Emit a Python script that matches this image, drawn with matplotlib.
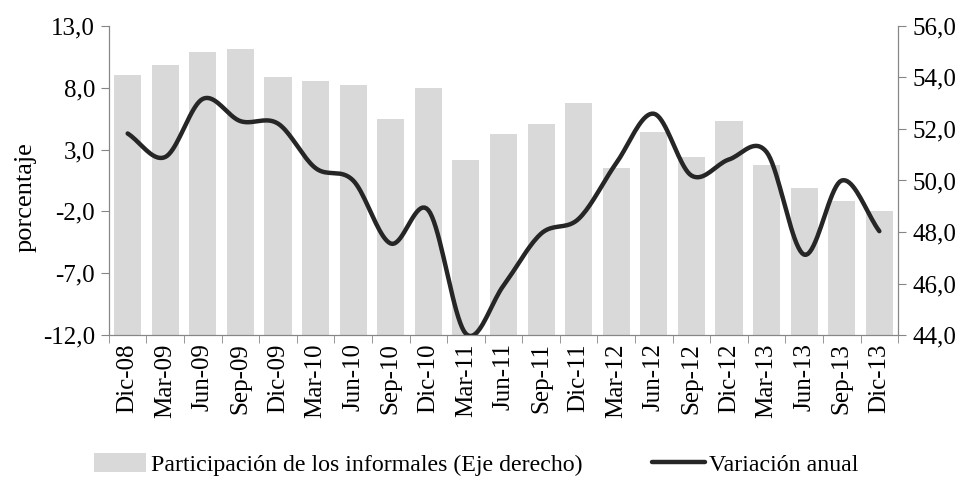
import numpy as np
import matplotlib.pyplot as plt
from matplotlib.ticker import FuncFormatter

# Data
periodos = ["Dic-08", "Mar-09", "Jun-09", "Sep-09", "Dic-09", "Mar-10", "Jun-10",
            "Sep-10", "Dic-10", "Mar-11", "Jun-11", "Sep-11", "Dic-11", "Mar-12",
            "Jun-12", "Sep-12", "Dic-12", "Mar-13", "Jun-13", "Sep-13", "Dic-13"]
participacion = [54.1, 54.5, 55.0, 55.1, 54.0, 53.85, 53.7, 52.4, 53.6, 50.8, 51.8,
                 52.2, 53.0, 50.5, 51.9, 50.9, 52.3, 50.6, 49.7, 49.2, 48.8]
variacion = [4.3, 2.4, 7.1, 5.3, 5.1, 1.5, 0.5, -4.6, -1.9, -11.9, -8.0,
             -3.8, -2.6, 1.9, 5.9, 0.9, 2.2, 2.8, -5.5, 0.5, -3.6]

plt.rcParams['font.family'] = ['Liberation Serif', 'DejaVu Serif']
gris = "#868686"
fs = 18


def suavizar(x, y, n=20):
    # Catmull-Rom, like the smoothed line option in a spreadsheet
    x = np.asarray(x, float)
    y = np.asarray(y, float)
    px = np.concatenate([[2 * x[0] - x[1]], x, [2 * x[-1] - x[-2]]])
    py = np.concatenate([[2 * y[0] - y[1]], y, [2 * y[-1] - y[-2]]])
    xs, ys = [], []
    t = np.linspace(0, 1, n, endpoint=False)
    for i in range(1, len(px) - 2):
        for p, out in ((px, xs), (py, ys)):
            p0, p1, p2, p3 = p[i - 1], p[i], p[i + 1], p[i + 2]
            out.extend(0.5 * (2 * p1 + (-p0 + p2) * t
                              + (2 * p0 - 5 * p1 + 4 * p2 - p3) * t ** 2
                              + (-p0 + 3 * p1 - 3 * p2 + p3) * t ** 3))
    xs.append(x[-1])
    ys.append(y[-1])
    return np.array(xs), np.array(ys)


fig = plt.figure(figsize=(9.72, 4.8), dpi=100)
ax = fig.add_axes([0.112, 0.302, 0.812, 0.644])
ax2 = ax.twinx()
ax.set_zorder(ax2.get_zorder() + 1)
ax.patch.set_visible(False)

x = np.arange(len(periodos))
barras = ax2.bar(x, participacion, width=0.72, color="#d9d9d9",
                 label="Participación de los informales (Eje derecho)")
xs, ys = suavizar(x, variacion)
linea, = ax.plot(xs, ys, color="#262626", lw=3.2, solid_capstyle="round",
                 label="Variación anual")

coma = FuncFormatter(lambda v, p: f"{v:.1f}".replace(".", ","))
ax.set_ylim(-12, 13)
ax.set_yticks(np.arange(-12, 14, 5))
ax.yaxis.set_major_formatter(coma)
ax2.set_ylim(44, 56)
ax2.set_yticks(np.arange(44, 57, 2))
ax2.yaxis.set_major_formatter(coma)
ax.set_xlim(-0.5, len(periodos) - 0.5)

ax.set_xticks(x)
ax.set_xticklabels(periodos, rotation=90, fontsize=fs)
ax.set_xticks(np.arange(-0.5, len(periodos)), minor=True)
ax.tick_params(axis="x", which="major", length=0, pad=6)
ax.tick_params(axis="x", which="minor", length=6, color=gris)
ax.tick_params(axis="y", labelsize=fs, length=6, color=gris, pad=4)
ax2.tick_params(axis="y", labelsize=fs, length=6, color=gris, pad=4)
ax.set_ylabel("porcentaje", fontsize=19)
ax.yaxis.set_label_coords(-0.092, 0.447)

for a in (ax, ax2):
    a.spines["top"].set_visible(False)
    for s in ("left", "right", "bottom"):
        a.spines[s].set_color(gris)

fig.legend([barras, linea], [barras.get_label(), linea.get_label()],
           loc="center", bbox_to_anchor=(0.49, 0.032), ncol=2, frameon=False,
           fontsize=17.2, handlelength=2.2, handleheight=0.8, columnspacing=2.9,
           handletextpad=0.2)

fig.savefig("out.png", dpi=100)
